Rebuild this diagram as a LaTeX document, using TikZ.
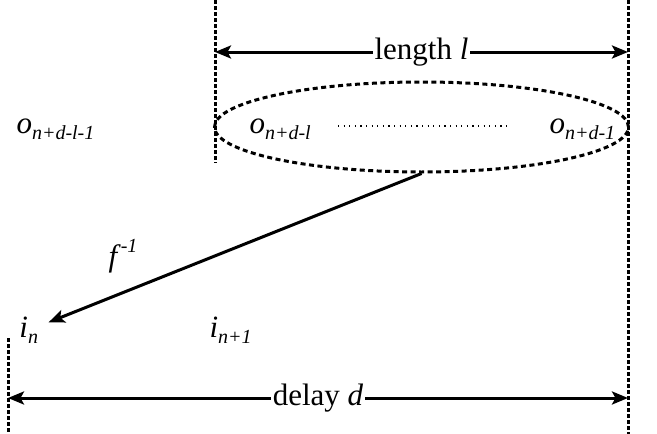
\documentclass[tikz,border=0pt]{standalone}
\usepackage{fontspec}
\setmainfont{Liberation Serif}
\usetikzlibrary{arrows.meta,shapes.geometric}
\newcommand{\sym}[2]{\textit{#1}\raisebox{-0.22em}{\fontsize{20}{24}\selectfont\textit{#2}}}

\begin{document}
\begin{tikzpicture}[x=1pt, y=-1pt, font=\fontsize{31}{36}\selectfont,
  >={Stealth[length=16pt, width=13pt, inset=3.5pt]}, line width=3pt,
  bound/.style={line width=3pt, dash pattern=on 3.5pt off 2.5pt},
  lbl/.style={inner sep=0pt},
  gaplbl/.style={fill=white, inner sep=1.5pt}]
\useasboundingbox (0,0) rectangle (657,434);

% ends of the window and of the whole delay
\coordinate (lTop) at (215,0);   \coordinate (lBot) at (215,163);
\coordinate (rTop) at (628,0);   \coordinate (rBot) at (628,434);
\coordinate (bTop) at (8,338);   \coordinate (bBot) at (8,434);
\draw[bound] (lTop) -- (lBot);
\draw[bound] (rTop) -- (rBot);
\draw[bound] (bTop) -- (bBot);

\coordinate (lenL) at (215,52);  \coordinate (lenR) at (628,52);
\draw[<->] (lenL) -- node[gaplbl]{length \textit{l}} (lenR);

% outputs seen through the window
\node[ellipse, draw, line width=3pt, dash pattern=on 5pt off 3.5pt,
      minimum width=414pt, minimum height=90pt, inner sep=0pt] (win) at (421.5,127) {};
\node[lbl, anchor=base west] (oPrev)  at (15,133)  {\sym{o}{n+d-l-1}};
\node[lbl, anchor=base west] (oFirst) at (248,133) {\sym{o}{n+d-l}};
\node[lbl, anchor=base west] (oLast)  at (548,133) {\sym{o}{n+d-1}};
\coordinate (dotL) at (338,126); \coordinate (dotR) at (508,126);
\draw[line width=1.1pt, dash pattern=on 1.1pt off 4.5pt] (dotL) -- (dotR);

% inputs
\node[inner sep=9pt, anchor=base west] (in) at (9,337) {\sym{i}{n}};
\node[lbl, anchor=base west] (inNext) at (208,337) {\sym{i}{n+1}};
\node[lbl] (finv) at (123,256) {\textit{f}\raisebox{0.45em}{\fontsize{20}{24}\selectfont\textit{-1}}};
\draw[->] (win.south) -- (in);

\coordinate (delL) at (8,398);   \coordinate (delR) at (628,398);
\draw[<->] (delL) -- node[gaplbl]{delay \textit{d}} (delR);
\end{tikzpicture}
\end{document}
